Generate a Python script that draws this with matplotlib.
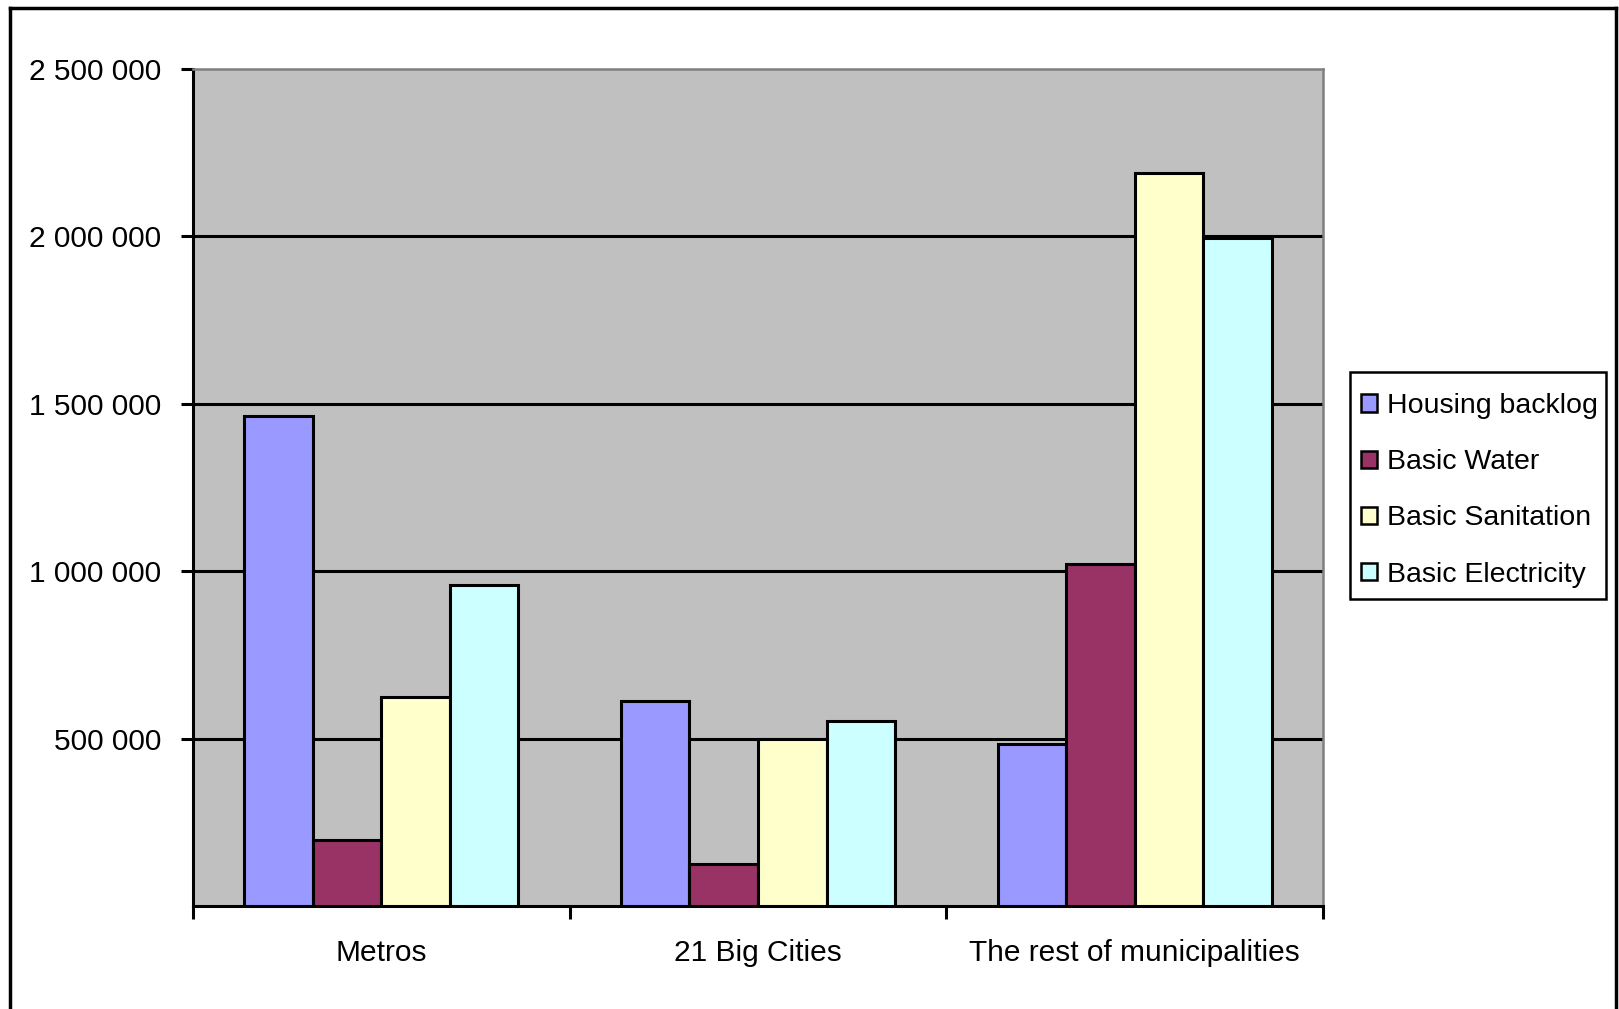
import numpy as np
import matplotlib.pyplot as plt
from matplotlib.lines import Line2D
from matplotlib.patches import Patch, Rectangle

plt.rcParams['font.family'] = ['Liberation Sans', 'DejaVu Sans']

# Backlog figures per municipality group
categories = ['Metros', '21 Big Cities', 'The rest of municipalities']
series = ['Housing backlog', 'Basic Water', 'Basic Sanitation', 'Basic Electricity']
housing = [1464000, 613000, 484000]
water = [197000, 126000, 1020000]
sanitation = [623000, 499000, 2189000]
electricity = [959000, 552000, 1994000]
yticks = [500000, 1000000, 1500000, 2000000, 2500000]

colors = ['#9999FF', '#993366', '#FFFFCC', '#CCFFFF']
values = [housing, water, sanitation, electricity]

W, H = 1619, 1009
fig = plt.figure(figsize=(W / 100, H / 100), dpi=100)
ax = fig.add_axes([0.1192, 0.1021, 0.698, 0.8295])
ax.set_facecolor('#C0C0C0')

x = np.arange(len(categories))
w = 0.182
for i, (vals, col) in enumerate(zip(values, colors)):
    ax.bar(x + (i - 1.5) * w, vals, width=w, color=col, edgecolor='black',
           linewidth=2.2, zorder=3, label=series[i])

ax.set_xlim(-0.5, 2.5)
ax.set_ylim(0, 2500000)

# horizontal gridlines
for t in yticks[:-1]:
    ax.axhline(t, color='black', linewidth=2.2, zorder=1)

fs = 21.5
ax.set_yticks(yticks)
ax.set_yticklabels([f'{t:,}'.replace(',', ' ') for t in yticks], fontsize=fs)
ax.set_xticks([-0.5, 0.5, 1.5, 2.5])
ax.set_xticklabels([])
ax.set_xticks(x, minor=True)
ax.set_xticklabels(categories, minor=True, fontsize=fs)
ax.tick_params(axis='x', which='minor', length=0, pad=24)
ax.tick_params(axis='x', which='major', length=9, width=2.2, direction='out')
ax.tick_params(axis='y', length=9, width=2.2, direction='out', pad=14)

for s in ['left', 'bottom']:
    ax.spines[s].set_linewidth(2.2)
    ax.spines[s].set_color('black')
for s in ['top', 'right']:
    ax.spines[s].set_linewidth(1.8)
    ax.spines[s].set_color('#808080')

# legend box drawn separately so its padding can differ per side
fig.add_artist(Rectangle((1350 / W, 1 - 599 / H), 256 / W, 227 / H,
                         transform=fig.transFigure, facecolor='white',
                         edgecolor='black', linewidth=1.8, zorder=2))
handles = [Patch(facecolor=c, edgecolor='black', linewidth=1.8) for c in colors]
leg = fig.legend(handles, series, loc='upper left',
                 bbox_to_anchor=(1361 / W, 1 - 393 / H),
                 frameon=False, fontsize=20.5, borderaxespad=0, borderpad=0,
                 handlelength=0.55, handleheight=0.55, handletextpad=0.35,
                 labelspacing=1.06)
leg.set_zorder(3)

# outer chart frame
frame_kw = dict(color='black', linewidth=2.5, transform=fig.transFigure)
fig.add_artist(Line2D([10 / W, 10 / W], [0, 1 - 8 / H], **frame_kw))
fig.add_artist(Line2D([10 / W, 1616 / W], [1 - 8 / H, 1 - 8 / H], **frame_kw))
fig.add_artist(Line2D([1616 / W, 1616 / W], [0, 1 - 8 / H], **frame_kw))

plt.savefig('out.png', dpi=100)
